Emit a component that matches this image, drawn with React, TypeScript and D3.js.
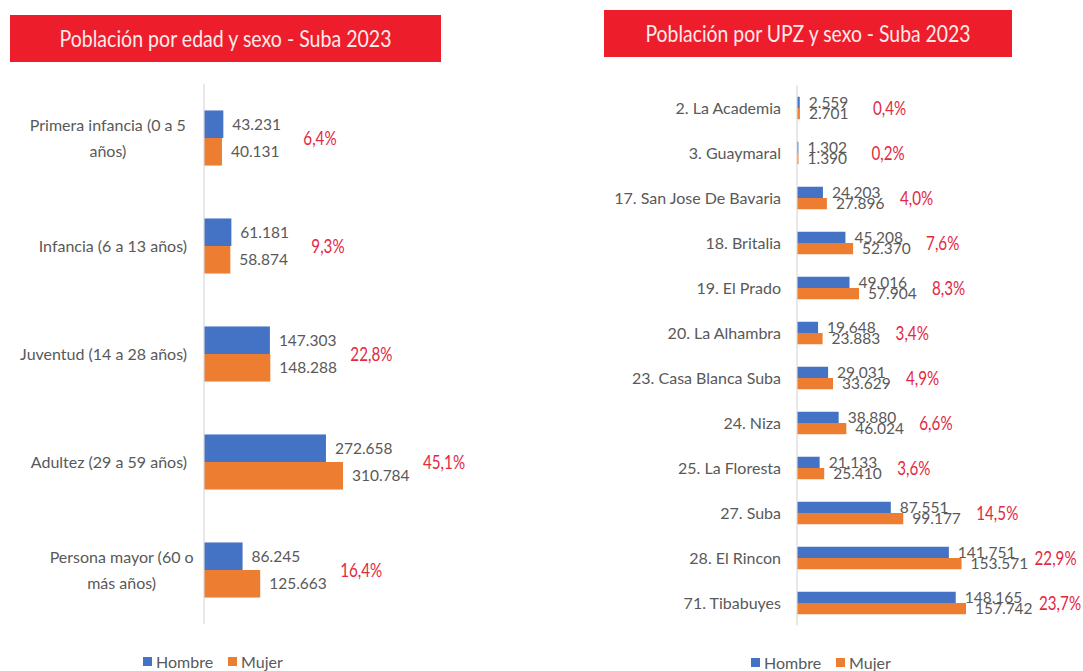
import React from 'react';
import * as d3 from 'd3';

// Población por edad y sexo
const edadCats = [
  'Primera infancia (0 a 5\naños)',
  'Infancia (6 a 13 años)',
  'Juventud (14 a 28 años)',
  'Adultez (29 a 59 años)',
  'Persona mayor (60 o\nmás años)',
];
const edadHombre = [43231, 61181, 147303, 272658, 86245];
const edadMujer = [40131, 58874, 148288, 310784, 125663];
const edadPct = ['6,4%', '9,3%', '22,8%', '45,1%', '16,4%'];

// Población por UPZ y sexo
const upzCats = [
  '2. La Academia',
  '3. Guaymaral',
  '17. San Jose De Bavaria',
  '18. Britalia',
  '19. El Prado',
  '20. La Alhambra',
  '23. Casa Blanca Suba',
  '24. Niza',
  '25. La Floresta',
  '27. Suba',
  '28. El Rincon',
  '71. Tibabuyes',
];
const upzHombre = [2559, 1302, 24203, 45208, 49016, 19648, 29031, 38880, 21133, 87551, 141751, 148165];
const upzMujer = [2701, 1390, 27896, 52370, 57904, 23883, 33629, 46024, 25410, 99177, 153571, 157742];
const upzPct = ['0,4%', '0,2%', '4,0%', '7,6%', '8,3%', '3,4%', '4,9%', '6,6%', '3,6%', '14,5%', '22,9%', '23,7%'];

const seriesNames = ['Hombre', 'Mujer'];

const BLUE = '#4472C4';
const ORANGE = '#ED7D31';
const BANNER = '#EE1D2C';
const PCT_RED = '#E3283F';
const GRAY = '#595959';
const FONT = 'Lato, "Open Sans", sans-serif';

const es = d3.formatLocale({ decimal: ',', thousands: '.', grouping: [3], currency: ['', ''] });
const fmt = es.format(',d');

interface IPanel {
  cats: string[];
  hombre: number[];
  mujer: number[];
  pct: string[];
  x: d3.ScaleLinear<number, number>;
  y: d3.ScaleBand<string>;
  labelRight: number;
  labelSize: number;
  valueSize: number;
  pctOffset: number;
  pctSize: number;
  lineHeight: number;
  valueGap: number;
}

function Panel(p: IPanel) {
  const bw = p.y.bandwidth();
  const x0 = p.x(0);
  const [y0, y1] = p.y.range();
  return (
    <g>
      {p.cats.map((c, i) => {
        const top = p.y(c)!;
        const mid = top + bw / 2;
        const lines = c.split('\n');
        const maxEnd = p.x(Math.max(p.hombre[i], p.mujer[i]));
        return (
          <g key={c}>
            <rect x={x0} y={top} width={p.x(p.hombre[i]) - x0} height={bw / 2} fill={BLUE} />
            <rect x={x0} y={top + bw / 2} width={p.x(p.mujer[i]) - x0} height={bw / 2} fill={ORANGE} />
            <text x={p.x(p.hombre[i]) + p.valueGap} y={top + bw / 4} dy="0.35em" fontSize={p.valueSize} fill={GRAY}>
              {fmt(p.hombre[i])}
            </text>
            <text x={p.x(p.mujer[i]) + p.valueGap} y={top + (3 * bw) / 4} dy="0.35em" fontSize={p.valueSize} fill={GRAY}>
              {fmt(p.mujer[i])}
            </text>
            {/* condensed red share label */}
            <text
              transform={`translate(${maxEnd + p.pctOffset},${mid}) scale(0.76,1)`}
              dy="0.35em"
              fontSize={p.pctSize}
              fill={PCT_RED}
            >
              {p.pct[i]}
            </text>
            {lines.length === 1 ? (
              <text x={p.labelRight} y={mid} dy="0.35em" textAnchor="end" fontSize={p.labelSize} fill={GRAY}>
                {c}
              </text>
            ) : (
              <MultiLabel lines={lines} right={p.labelRight} mid={mid} size={p.labelSize} lh={p.lineHeight} />
            )}
          </g>
        );
      })}
      <line x1={x0} x2={x0} y1={y0} y2={y1} stroke="#D9D9D9" strokeWidth={1.2} />
    </g>
  );
}

function MultiLabel(props: { lines: string[]; right: number; mid: number; size: number; lh: number }) {
  // rough widest-line width so the lines are centred within a right-aligned block
  const widths = props.lines.map((l) => l.length * props.size * 0.43);
  const w = Math.max(...widths);
  const cx = props.right - w / 2;
  const start = props.mid - ((props.lines.length - 1) * props.lh) / 2;
  return (
    <text textAnchor="middle" fontSize={props.size} fill={GRAY}>
      {props.lines.map((l, k) => (
        <tspan key={k} x={cx} y={start + k * props.lh} dy="0.35em">
          {l}
        </tspan>
      ))}
    </text>
  );
}

function Legend(props: { x: number; y: number; gap: number }) {
  const colors = [BLUE, ORANGE];
  return (
    <g>
      {seriesNames.map((n, i) => (
        <g key={n} transform={`translate(${props.x + i * props.gap},${props.y})`}>
          <rect x={0} y={-5} width={9} height={9} fill={colors[i]} />
          <text x={13} y={0} dy="0.35em" fontSize={16} fill={GRAY}>
            {n}
          </text>
        </g>
      ))}
    </g>
  );
}

function Banner(props: { x: number; y: number; w: number; h: number; text: string; tl: number }) {
  return (
    <g>
      <rect x={props.x} y={props.y} width={props.w} height={props.h} fill={BANNER} />
      <text
        x={props.x + props.w / 2}
        y={props.y + props.h / 2}
        dy="0.36em"
        textAnchor="middle"
        fontSize={24}
        fill="#FDEAEA"
        textLength={props.tl}
        lengthAdjust="spacingAndGlyphs"
      >
        {props.text}
      </text>
    </g>
  );
}

export default function App() {
  const width = 1083;
  const height = 671;

  const xL = d3.scaleLinear().domain([0, 310784]).range([204, 343]);
  const yL = d3.scaleBand<string>().domain(edadCats).range([84, 624]).paddingInner(0.49).paddingOuter(0.245);

  const xR = d3.scaleLinear().domain([0, 157742]).range([797, 966]);
  const yR = d3.scaleBand<string>().domain(upzCats).range([85.5, 625.5]).paddingInner(0.5).paddingOuter(0.25);

  return (
    <div style={{ position: 'absolute', left: 0, top: 0 }}>
      <svg width={width} height={height} style={{ display: 'block', background: '#fff', fontFamily: FONT }}>
        <Banner x={10} y={15} w={431} h={47} text="Población por edad y sexo - Suba 2023" tl={332} />
        <Banner x={604} y={10} w={408} h={47} text="Población por UPZ y sexo - Suba 2023" tl={325} />

        <Panel
          cats={edadCats}
          hombre={edadHombre}
          mujer={edadMujer}
          pct={edadPct}
          x={xL}
          y={yL}
          labelRight={187}
          labelSize={16}
          valueSize={15.5}
          pctOffset={80}
          pctSize={20}
          lineHeight={26}
          valueGap={9}
        />
        <Panel
          cats={upzCats}
          hombre={upzHombre}
          mujer={upzMujer}
          pct={upzPct}
          x={xR}
          y={yR}
          labelRight={781}
          labelSize={16}
          valueSize={15.5}
          pctOffset={73}
          pctSize={20}
          lineHeight={26}
          valueGap={9}
        />

        <Legend x={143} y={662} gap={85} />
        <Legend x={751} y={663} gap={85} />
      </svg>
    </div>
  );
}
